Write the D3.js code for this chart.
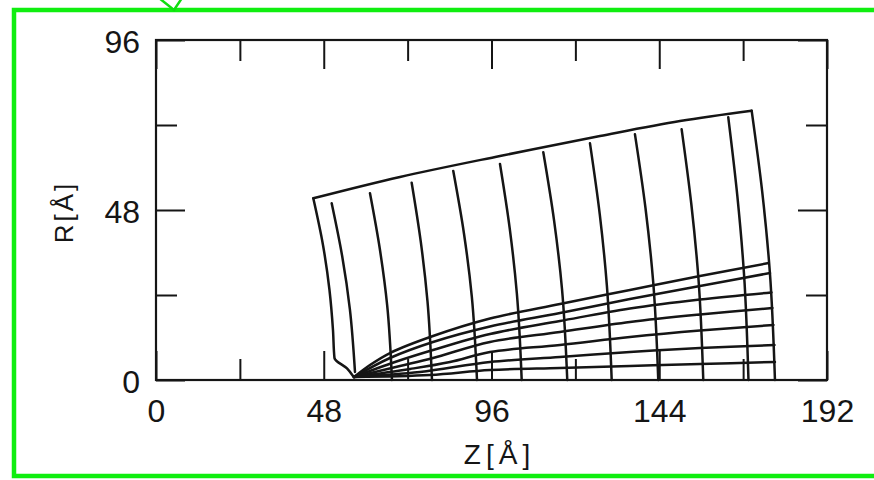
<!DOCTYPE html>
<html>
<head>
<meta charset="utf-8">
<script src="https://cdn.jsdelivr.net/npm/d3@7"></script>
<style>
  html, body { margin: 0; padding: 0; background: #fff; }
  svg { display: block; }
</style>
</head>
<body>
<svg id="chart" width="874" height="480"></svg>
<script>
// Axis ticks, in Å
const zMajor = [0, 48, 96, 144, 192];
const zMinor = [24, 72, 120, 168];
const rMajor = [0, 48, 96];
const rMinor = [24, 72];

// Mesh outline: top edge and left edge (z, R) in Å
const topEdge = [[45.01, 51.30], [69.81, 57.32], [98.43, 63.25], [127.04, 68.89], [149.93, 73.13], [170.44, 76.04]];
const leftEdge = [[45.01, 51.30], [47.78, 38.12], [49.64, 25.41], [50.64, 14.12], [51.07, 6.21], [54.65, 3.25], [56.37, 1.13]];

// Radial mesh lines, top to bottom (the last one is the right edge)
const radialLines = [
  [[50.27, 49.89], [53.28, 34.92], [55.48, 19.96], [56.94, 2.26]],
  [[61.23, 52.71], [64.06, 36.90], [66.15, 21.08], [67.52, 0]],
  [[73.16, 55.71], [75.77, 39.00], [77.68, 22.28], [78.97, 0]],
  [[85.06, 59.01], [88.13, 41.31], [90.36, 23.60], [91.85, 0]],
  [[98.43, 60.99], [101.23, 42.69], [103.26, 24.40], [104.64, 0]],
  [[110.82, 64.29], [113.91, 45.00], [116.17, 25.72], [117.68, 0]],
  [[124.18, 66.83], [126.98, 46.78], [129.01, 26.73], [130.39, 0]],
  [[137.05, 69.37], [140.06, 48.56], [142.26, 27.75], [143.72, 0]],
  [[150.41, 70.78], [153.19, 49.55], [155.24, 28.31], [156.60, 0]],
  [[163.75, 74.17], [166.35, 51.92], [168.27, 29.67], [169.53, 0]],
  [[170.44, 76.04], [173.45, 53.23], [175.65, 30.41], [177.11, 0]]
];

// Fan lines spreading from the focus near z = 56.7 Å
const fanLines = [
  [[56.65, 0.85], [61.23, 4.24], [66.95, 7.62], [79.26, 12.42], [95.57, 17.36], [115.59, 21.46], [135.62, 25.41], [155.65, 29.36], [175.34, 33.03]],
  [[56.65, 0.85], [66.95, 6.21], [79.26, 10.73], [95.57, 15.11], [115.59, 18.92], [135.62, 22.87], [155.65, 26.54], [175.68, 30.21]],
  [[56.65, 0.85], [68.38, 5.08], [79.26, 8.47], [95.57, 12.99], [115.59, 16.66], [135.62, 20.19], [155.65, 22.73], [176.11, 24.71]],
  [[56.65, 0.85], [69.81, 3.95], [79.26, 6.21], [95.57, 10.73], [115.59, 13.55], [135.62, 16.38], [155.65, 18.49], [176.39, 20.33]],
  [[56.65, 0.85], [72.68, 3.11], [84.12, 5.08], [95.57, 7.91], [115.59, 9.88], [135.62, 12.14], [155.65, 13.98], [176.68, 15.53]],
  [[56.65, 0.85], [75.54, 2.26], [95.57, 5.08], [115.59, 6.49], [135.62, 7.91], [155.65, 9.04], [176.97, 9.88]],
  [[56.65, 0.85], [78.40, 1.41], [95.57, 2.82], [115.59, 3.39], [135.62, 3.95], [155.65, 4.52], [177.11, 5.08]]
];

const ink = "#151515";
const font = "'Liberation Sans', Arial, Helvetica, sans-serif";

const x = d3.scaleLinear().domain([0, 192]).range([156, 827]);
const y = d3.scaleLinear().domain([0, 96]).range([380, 40]);

const svg = d3.select("#chart");

// Green page frame (its right side runs past the page edge) with a small pointer
svg.append("rect")
  .attr("x", 14).attr("y", 10).attr("width", 866).attr("height", 466)
  .attr("fill", "none").attr("stroke", "#10ee10").attr("stroke-width", 4.5);
svg.append("path")
  .attr("d", "M159,-2 L174,10 L182,-2")
  .attr("fill", "#fff").attr("stroke", "#10dd10").attr("stroke-width", 2.5)
  .attr("stroke-linejoin", "miter");

// Mesh
const smooth = d3.curveCatmullRom.alpha(0.5);
const lineX = d3.line().x(d => x(d[0])).y(d => y(d[1])).curve(smooth);
const lineY = d3.line().x(d => x(d[0])).y(d => y(d[1])).curve(d3.curveMonotoneY);

const mesh = svg.append("g")
  .attr("fill", "none").attr("stroke", ink).attr("stroke-width", 2.5)
  .attr("stroke-linejoin", "round").attr("stroke-linecap", "round");

mesh.append("path").attr("d", lineX(topEdge));
mesh.append("path").attr("d", lineY(leftEdge));
mesh.selectAll("path.radial").data(radialLines).join("path")
  .attr("class", "radial").attr("d", d => lineY(d));
mesh.selectAll("path.fan").data(fanLines).join("path")
  .attr("class", "fan").attr("d", d => lineX(d));

// Axes with inward ticks
function styleAxis(g) {
  g.select(".domain").remove();
  g.selectAll(".tick line").attr("stroke", ink).attr("stroke-width", 2);
  g.selectAll(".tick text").attr("fill", ink).attr("font-size", 32).attr("font-family", font);
}
const blank = () => "";

svg.append("g").attr("transform", `translate(0,${y(0)})`)
  .call(d3.axisBottom(x).tickValues(zMajor).tickSize(-29).tickPadding(19).tickFormat(d3.format("d")))
  .call(styleAxis);
svg.append("g").attr("transform", `translate(0,${y(0)})`)
  .call(d3.axisBottom(x).tickValues(zMinor).tickSize(-21).tickFormat(blank))
  .call(styleAxis);
svg.append("g").attr("transform", `translate(0,${y(96)})`)
  .call(d3.axisTop(x).tickValues(zMajor).tickSize(-29).tickFormat(blank))
  .call(styleAxis);
svg.append("g").attr("transform", `translate(0,${y(96)})`)
  .call(d3.axisTop(x).tickValues(zMinor).tickSize(-21).tickFormat(blank))
  .call(styleAxis);

const leftAxis = svg.append("g").attr("transform", `translate(${x(0)},0)`)
  .call(d3.axisLeft(y).tickValues(rMajor).tickSize(-29).tickPadding(16).tickFormat(d3.format("d")))
  .call(styleAxis);
leftAxis.selectAll(".tick text").attr("dy", "0.4em");
svg.append("g").attr("transform", `translate(${x(0)},0)`)
  .call(d3.axisLeft(y).tickValues(rMinor).tickSize(-21).tickFormat(blank))
  .call(styleAxis);
svg.append("g").attr("transform", `translate(${x(192)},0)`)
  .call(d3.axisRight(y).tickValues(rMajor).tickSize(-29).tickFormat(blank))
  .call(styleAxis);
svg.append("g").attr("transform", `translate(${x(192)},0)`)
  .call(d3.axisRight(y).tickValues(rMinor).tickSize(-21).tickFormat(blank))
  .call(styleAxis);

// Plot frame
svg.append("rect")
  .attr("x", x(0)).attr("y", y(96))
  .attr("width", x(192) - x(0)).attr("height", y(0) - y(96))
  .attr("fill", "none").attr("stroke", ink).attr("stroke-width", 2.2);

// Axis titles
svg.append("text")
  .attr("x", (x(0) + x(192)) / 2 + 8).attr("y", 464)
  .attr("text-anchor", "middle").attr("font-size", 28).attr("letter-spacing", 5)
  .attr("font-family", font).attr("fill", ink)
  .text("Z[Å]");
svg.append("text")
  .attr("transform", `translate(73,${y(48) + 2}) rotate(-90)`)
  .attr("text-anchor", "middle").attr("font-size", 26).attr("letter-spacing", 3)
  .attr("font-family", font).attr("fill", ink)
  .text("R[Å]");
</script>
</body>
</html>
